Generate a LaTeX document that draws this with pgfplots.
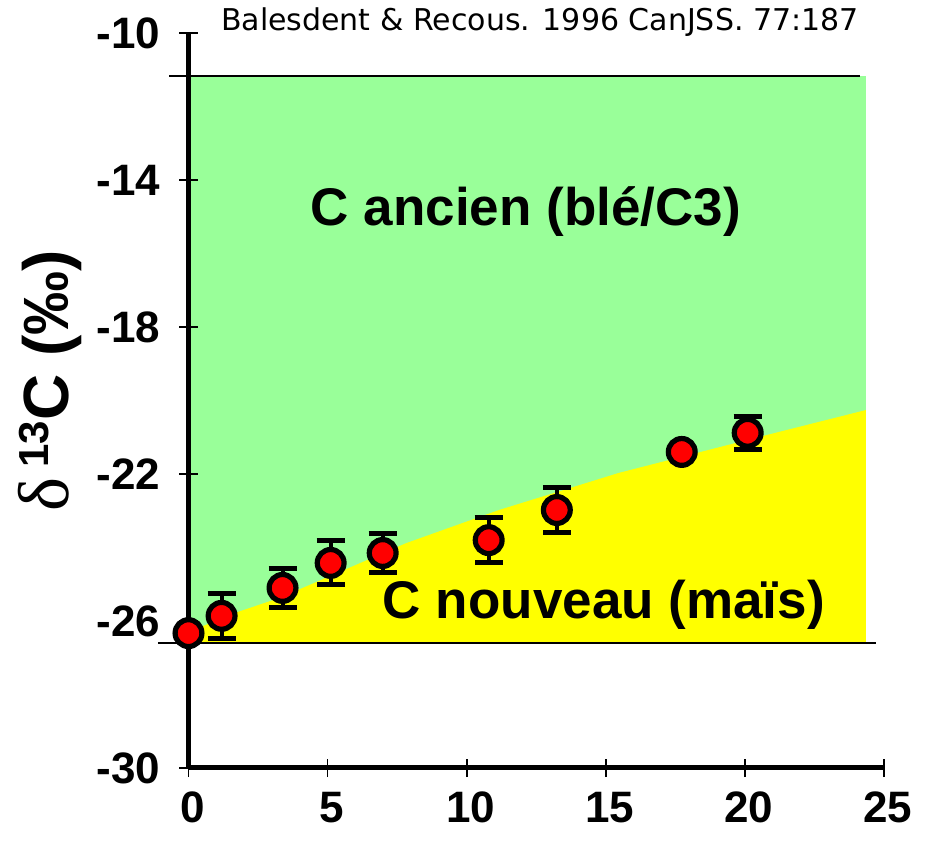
\documentclass[border=0pt]{standalone}
\usepackage{pgfplots}
\pgfplotsset{compat=1.18}
\usepackage{fontspec}
\setmainfont{Liberation Sans}
\newfontfamily\serifgreek{Liberation Serif}
\newfontfamily\citefont{DejaVu Sans}
\definecolor{cgreen}{RGB}{153,255,153}
\definecolor{cyellow}{RGB}{255,255,0}
\definecolor{cred}{RGB}{255,0,0}

\pgfplotstableread{
x y err
0 -26.33 0
1.19 -25.86 0.62
3.38 -25.10 0.52
5.11 -24.42 0.60
6.98 -24.15 0.52
10.79 -23.80 0.61
13.24 -22.98 0.61
17.73 -21.40 0
20.10 -20.88 0.45
}\datatab

\begin{document}
\begin{tikzpicture}
\begin{axis}[
  name=ax,
  set layers=standard,
  scale only axis,
  width=347.75pt, height=367.5pt,
  xmin=0, xmax=25, ymin=-30, ymax=-10,
  axis lines=left,
  axis line style={-, line width=2.5pt, black},
  xtick={0,5,10,15,20,25},
  xticklabels={0,5,10,15,20,25},
  ytick={-30,-26,-22,-18,-14,-10},
  yticklabels={-30,-26,-22,-18,-14,-10},
  tick align=center,
  major tick length=9pt,
  tick style={line width=0.8pt, black},
  ticklabel style={font=\bfseries\fontsize{22}{22}\selectfont},
  xticklabel style={yshift=-4pt, xshift=2pt},
  yticklabel style={xshift=-6pt},
  clip=false,
]
% green region
\addplot[on layer=axis background, fill=cgreen, draw=none] coordinates {
  (0,-26.6) (24.35,-26.6) (24.35,-11.17) (0,-11.17)} -- cycle;
% yellow region
\addplot[on layer=axis background, fill=cyellow, draw=none] coordinates {
  (0,-26.30) (1.67,-25.78) (3.28,-25.37) (7.83,-23.88) (11.16,-22.98)
  (15.47,-21.97) (21.2,-20.86) (24.35,-20.26) (24.35,-26.6) (0,-26.6)} -- cycle;
% horizontal lines
\addplot[black, line width=1pt] coordinates {(-0.7,-11.17) (24.14,-11.17)};
\addplot[black, line width=1.1pt] coordinates {(-1.1,-26.6) (24.7,-26.6)};
% data
\addplot[only marks, mark=*, mark size=6.7pt,
  mark options={fill=cred, draw=black, line width=2.6pt},
  error bars/.cd, y dir=both, y explicit,
  error mark=|,
  error bar style={line width=2pt, black},
  error mark options={line width=2.5pt, mark size=7pt, black}]
  table[x=x, y=y, y error=err] {\datatab};
\node[font=\bfseries\fontsize{26.5}{26.5}\selectfont] at (axis cs:12.13,-14.87) {C ancien (blé/C3)};
\node[font=\bfseries\fontsize{26.5}{26.5}\selectfont] at (axis cs:14.93,-25.56) {C nouveau (maïs)};
\node[font=\citefont\fontsize{15}{15}\selectfont] at (axis cs:12.63,-9.70) {Balesdent \& Recous. 1996 CanJSS. 77:187};
\node[rotate=90, font=\bfseries\fontsize{32}{32}\selectfont] at (axis cs:-4.98,-19.47)
  {{\serifgreek\mdseries\fontsize{36}{36}\selectfont δ}\,\raisebox{10pt}{\fontsize{21}{21}\selectfont 13}C (‰)};
\end{axis}
\pgfresetboundingbox
\path ([shift={(-94.25pt,-39pt)}]ax.south west) rectangle ([shift={(368.75pt,384pt)}]ax.south west);
\end{tikzpicture}
\end{document}
